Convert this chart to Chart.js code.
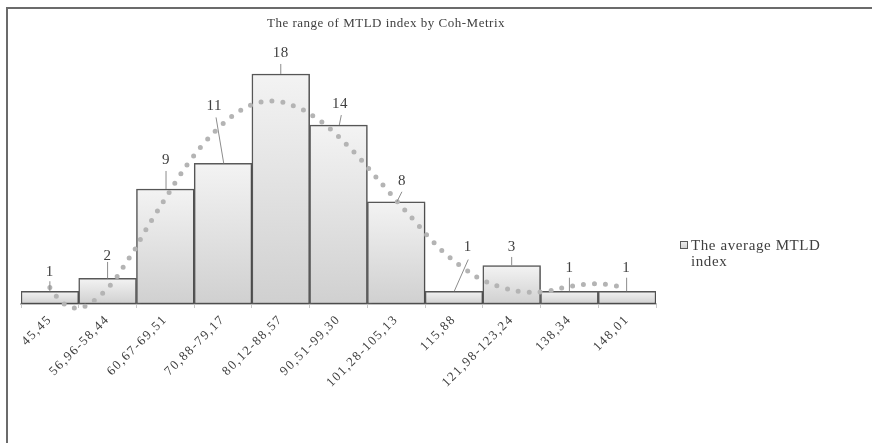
<!DOCTYPE html>
<html>
<head>
<meta charset="utf-8">
<script src="https://cdn.jsdelivr.net/npm/chart.js@4.4.1/dist/chart.umd.min.js"></script>
<style>
  html, body { margin: 0; padding: 0; background: #fff; }
  #wrap { width: 872px; height: 443px; }
</style>
</head>
<body>
<div id="wrap"><canvas id="chart-mtld" width="872" height="443"></canvas></div>
<script>
// === Datos del gráfico ===
const titulo = 'The range of MTLD index by Coh-Metrix';
const serieNombre = ['The average MTLD', 'index'];
const rangos = ['45,45', '56,96-58,44', '60,67-69,51', '70,88-79,17', '80,12-88,57', '90,51-99,30',
  '101,28-105,13', '115,88', '121,98-123,24', '138,34', '148,01'];
const frecuencias = [1, 2, 9, 11, 18, 14, 8, 1, 3, 1, 1];
const yMax = 20;

// línea de tendencia (x = posición de categoría)
const tendenciaX = [0, 0.12, 0.25, 0.42, 0.62, 0.78, 0.92, 1.04, 1.16, 1.25, 1.35, 1.46, 1.63, 1.82, 2.01,
  2.2, 2.41, 2.63, 2.88, 3.16, 3.49, 3.86, 4.23, 4.56, 4.86, 5.13, 5.38, 5.62, 5.86, 6.1, 6.35, 6.59,
  6.85, 7.14, 7.45, 7.81, 8.18, 8.56, 8.95, 9.33, 9.72, 9.95];
const tendenciaY = [1.3, 0.57, 0, -0.31, -0.16, 0.31, 0.86, 1.43, 2.11, 2.74, 3.44, 4.17, 5.56, 6.96, 8.32,
  9.7, 11.1, 12.36, 13.6, 14.7, 15.57, 15.88, 15.5, 14.71, 13.69, 12.52, 11.35, 10.09, 8.84, 7.59, 6.34, 5.11,
  3.94, 2.9, 1.98, 1.33, 0.96, 0.96, 1.33, 1.56, 1.49, 1.2];

// posición de etiquetas: [texto dx, texto dy, línea dx, línea dy, fin dx]
const etiquetaPos = [
  [0, -19, 0, -10, 0], [0, -22.5, 0, -16.5, 0], [0.7, -28.5, 0.7, -18, 0.7], [-8.7, -57.5, -7, -46, 0.7],
  [0, -21, 0, -10, 0], [1.5, -21, 2.8, -10, 0.8], [5.7, -21, 5.7, -10, 0.7], [13.7, -44, 14.3, -31.7, 0.3],
  [0, -19, 0, -8.7, 0], [0, -23.5, 0, -13.5, 0], [-1, -23.5, -0.5, -13.5, -0.5]
];

function gradienteBarra(context) {
  const chart = context.chart;
  const area = chart.chartArea;
  if (!area) return '#e0e0e0';
  const v = context.raw || 0;
  const top = chart.scales.y.getPixelForValue(v);
  const g = chart.ctx.createLinearGradient(0, top, 0, area.bottom);
  g.addColorStop(0, '#f3f3f3');
  g.addColorStop(1, '#d0d0d0');
  return g;
}

// === Plugin: marco, título, etiquetas y leyenda ===
const decoracion = {
  id: 'decoracion',
  beforeDraw(chart) {
    const ctx = chart.ctx;
    ctx.save();
    ctx.strokeStyle = '#6b6b6b';
    ctx.lineWidth = 2;
    ctx.beginPath();
    ctx.moveTo(7, 443); ctx.lineTo(7, 8); ctx.lineTo(872, 8);
    ctx.stroke();
    ctx.restore();
    ctx.letterSpacing = '1.5px';
  },
  beforeDatasetDraw(chart, args) {
    if (args.index !== 1) return;
    const ctx = chart.ctx;
    ctx.save();
    ctx.shadowColor = 'rgba(0,0,0,0.25)';
    ctx.shadowBlur = 3;
    ctx.shadowOffsetX = 1;
    ctx.shadowOffsetY = 1;
  },
  afterDatasetDraw(chart, args) {
    if (args.index !== 1) return;
    chart.ctx.restore();
  },
  afterDraw(chart) {
    const ctx = chart.ctx;
    const x = chart.scales.x;
    const y = chart.scales.y;
    ctx.save();
    ctx.letterSpacing = '0.5px';
    ctx.fillStyle = '#404040';
    ctx.textAlign = 'center';
    ctx.textBaseline = 'middle';
    ctx.font = '13px "Liberation Serif"';
    ctx.fillText(titulo, 386, 24);

    ctx.font = '15px "Liberation Serif"';
    frecuencias.forEach((v, i) => {
      const bx = x.getPixelForValue(i);
      const by = y.getPixelForValue(v);
      const p = etiquetaPos[i];
      ctx.strokeStyle = '#8c8c8c';
      ctx.lineWidth = 1;
      ctx.beginPath();
      ctx.moveTo(bx + p[2], by + p[3]);
      ctx.lineTo(bx + p[4], by);
      ctx.stroke();
      ctx.fillText(String(v), bx + p[0], by + p[1]);
    });

    // leyenda
    const g = ctx.createLinearGradient(0, 241, 0, 249);
    g.addColorStop(0, '#f0f0f0');
    g.addColorStop(1, '#cfcfcf');
    ctx.fillStyle = g;
    ctx.fillRect(680, 241, 8, 8);
    ctx.strokeStyle = '#595959';
    ctx.lineWidth = 1;
    ctx.strokeRect(680.5, 241.5, 7, 7);
    ctx.fillStyle = '#404040';
    ctx.textAlign = 'left';
    ctx.font = '15px "Liberation Serif"';
    ctx.letterSpacing = '0.6px';
    ctx.fillText(serieNombre[0], 691, 246);
    ctx.fillText(serieNombre[1], 691, 262);
    ctx.restore();
  }
};

const ctx = document.getElementById('chart-mtld').getContext('2d');
const chart = new Chart(ctx, {
  type: 'bar',
  data: {
    labels: rangos,
    datasets: [{
      type: 'line',
      label: 'Tendencia',
      xAxisID: 'x2',
      data: tendenciaX.map((t, i) => ({ x: t, y: tendenciaY[i] })),
      borderColor: '#b4b4b4',
      borderWidth: 5,
      borderDash: [0, 11],
      borderCapStyle: 'round',
      pointRadius: 0,
      tension: 0.4,
      fill: false,
      clip: false,
      order: 0
    }, {
      label: serieNombre.join(' '),
      data: frecuencias,
      backgroundColor: gradienteBarra,
      borderColor: '#595959',
      borderWidth: 1.5,
      borderSkipped: false,
      grouped: false,
      categoryPercentage: 1,
      barPercentage: 1,
      order: 1
    }]
  },
  options: {
    responsive: false,
    animation: false,
    layout: { padding: { left: 21, right: 216, top: 304 - 255.6, bottom: 0 } },
    plugins: { legend: { display: false }, tooltip: { enabled: false }, title: { display: false } },
    scales: {
      x: {
        offset: true,
        grid: { display: true, drawOnChartArea: false, drawTicks: true, tickLength: 4, color: '#c8c8c8', offset: true },
        border: { display: true, color: '#c0c0c0', width: 2 },
        ticks: {
          autoSkip: false,
          minRotation: 45,
          maxRotation: 45,
          padding: 4,
          color: '#404040',
          font: { family: 'Liberation Serif', size: 13 }
        },
        afterFit(scale) { scale.height = 443 - 304; }
      },
      x2: { type: 'linear', display: false, offset: false, min: -0.5, max: 10.5 },
      y: { display: false, min: 0, max: yMax }
    }
  },
  plugins: [decoracion]
});
</script>
</body>
</html>
